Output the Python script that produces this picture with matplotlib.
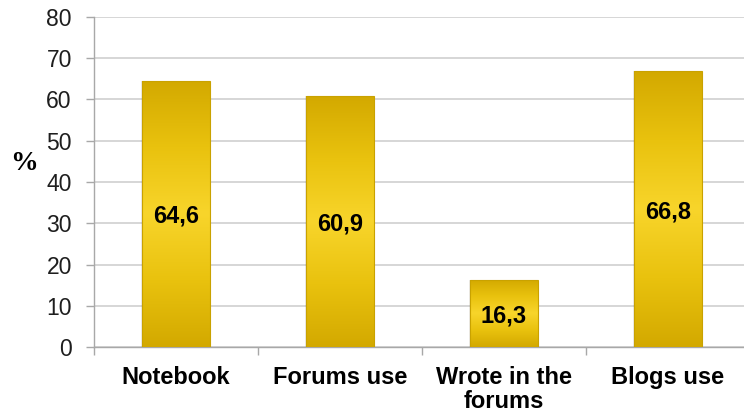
import numpy as np
import matplotlib.pyplot as plt
from matplotlib.colors import LinearSegmentedColormap
from matplotlib.patches import Rectangle

categories = ["Notebook", "Forums use", "Wrote in the\nforums", "Blogs use"]
values = [64.6, 60.9, 16.3, 66.8]
labels = ["64,6", "60,9", "16,3", "66,8"]

fig = plt.figure(figsize=(7.44, 4.15), dpi=100)
ax = fig.add_axes([94 / 744, 1 - 347 / 415, 656 / 744, 330 / 415])

gold = LinearSegmentedColormap.from_list(
    "gold", ["#d3a900", "#e9c20e", "#f8d52b", "#e9c20e", "#d3a900"])
grad = np.linspace(0, 1, 256).reshape(-1, 1)

x = np.arange(len(categories))
w = 0.41
bars = ax.bar(x, values, width=w, color="none", edgecolor="none", zorder=3)
for b, v, lab in zip(bars, values, labels):
    x0 = b.get_x()
    # soft shadow around the bar
    ax.add_patch(Rectangle((x0 - 0.006, 0), w + 0.016, v, color="#000000",
                           alpha=0.08, lw=0, zorder=2))
    im = ax.imshow(grad, cmap=gold, aspect="auto", extent=(x0, x0 + w, 0, v),
                   zorder=3, interpolation="bicubic")
    edge = Rectangle((x0, 0), w, v, fill=False, ec="#c9a200", lw=0.8, zorder=4)
    ax.add_patch(edge)
    im.set_clip_path(edge)
    ax.text(b.get_x() + w / 2, v / 2 - 0.6, lab, ha="center", va="center",
            fontsize=17, fontweight="bold", family="Liberation Sans", zorder=5)

ax.set_xlim(-0.5, 3.5)
ax.set_ylim(0, 80)
ax.set_yticks(np.arange(0, 81, 10))
ax.yaxis.grid(True, color="#d0d0d0", lw=1.2, zorder=0)
ax.set_axisbelow(True)

ax.set_xticks(x)
ax.set_xticklabels(categories, fontsize=17, fontweight="bold",
                   family="Liberation Sans", linespacing=1.05)
ax.set_xticks(np.arange(-0.5, 4, 1), minor=True)
ax.tick_params(axis="x", which="major", length=0, pad=14)
ax.tick_params(axis="x", which="minor", length=6, color="#a8a8a8", width=1)
ax.tick_params(axis="y", length=6, color="#a8a8a8", width=1, pad=10,
               labelsize=16.5, labelcolor="#1e1e1e")
for t in ax.get_yticklabels():
    t.set_family("Liberation Sans")

for s in ["top", "right"]:
    ax.spines[s].set_visible(False)
for s in ["left", "bottom"]:
    ax.spines[s].set_color("#a8a8a8")
    ax.spines[s].set_linewidth(1)

fig.text(24 / 744, 1 - 163 / 415, "%", fontsize=20, fontweight="bold",
         family="Liberation Serif", ha="center", va="center")

fig.savefig("out.png", dpi=100)
